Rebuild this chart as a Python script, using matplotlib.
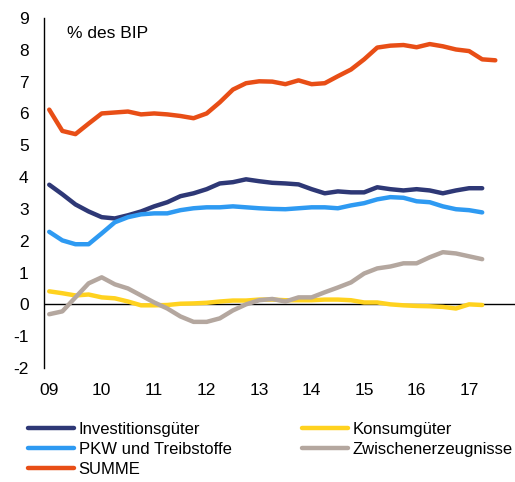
import numpy as np
import matplotlib
matplotlib.use("Agg")
from matplotlib import pyplot as plt

plt.rcParams['font.family'] = ['Liberation Sans', 'DejaVu Sans']
plt.rcParams['axes.unicode_minus'] = False

# quarterly values, 2009Q1 onwards
investition = [3.76, 3.46, 3.14, 2.92, 2.74, 2.70, 2.80, 2.92, 3.08, 3.21,
               3.40, 3.49, 3.62, 3.80, 3.84, 3.93, 3.87, 3.82, 3.80, 3.77,
               3.62, 3.49, 3.55, 3.52, 3.52, 3.68, 3.62, 3.58, 3.62, 3.58,
               3.49, 3.58, 3.65, 3.65]
pkw = [2.28, 2.01, 1.89, 1.89, 2.23, 2.58, 2.74, 2.83, 2.86, 2.86,
       2.96, 3.02, 3.05, 3.05, 3.08, 3.05, 3.02, 3.00, 2.99, 3.02,
       3.05, 3.05, 3.02, 3.11, 3.18, 3.30, 3.37, 3.35, 3.24, 3.21,
       3.08, 2.99, 2.96, 2.89]
konsum = [0.41, 0.35, 0.28, 0.31, 0.22, 0.19, 0.09, -0.03, -0.03, -0.02,
          0.02, 0.03, 0.05, 0.09, 0.12, 0.12, 0.15, 0.15, 0.13, 0.13,
          0.13, 0.15, 0.15, 0.13, 0.06, 0.06, 0.0, -0.03, -0.05, -0.06,
          -0.08, -0.13, 0.0, -0.02]
zwischen = [-0.31, -0.22, 0.22, 0.66, 0.85, 0.63, 0.50, 0.28, 0.06, -0.13,
            -0.38, -0.55, -0.55, -0.44, -0.19, 0.0, 0.13, 0.17, 0.09, 0.22,
            0.22, 0.38, 0.53, 0.69, 0.97, 1.13, 1.19, 1.29, 1.29, 1.48,
            1.64, 1.60, 1.51, 1.42]
summe = [6.12, 5.45, 5.35, 5.68, 6.0, 6.03, 6.06, 5.97, 6.0, 5.97,
         5.92, 5.85, 6.0, 6.35, 6.75, 6.95, 7.01, 7.0, 6.92, 7.04,
         6.92, 6.95, 7.17, 7.38, 7.7, 8.07, 8.13, 8.15, 8.08, 8.18,
         8.11, 8.01, 7.96, 7.7, 7.67]
year_labels = ['09', '10', '11', '12', '13', '14', '15', '16', '17']

fig = plt.figure(figsize=(5.15, 4.82), dpi=100)
ax = fig.add_axes([0.0854, 0.2365, 0.9146, 0.7262])

lw = 3.2
l1, = ax.plot(np.arange(len(investition)), investition, color='#2E3876', lw=lw, solid_capstyle='round', label='Investitionsgüter')
l2, = ax.plot(np.arange(len(pkw)), pkw, color='#2E9AF2', lw=lw, solid_capstyle='round', label='PKW und Treibstoffe')
l4, = ax.plot(np.arange(len(konsum)), konsum, color='#FFD21F', lw=lw, solid_capstyle='round', label='Konsumgüter')
l5, = ax.plot(np.arange(len(zwischen)), zwischen, color='#B4A79F', lw=lw, solid_capstyle='round', label='Zwischenerzeugnisse')
l3, = ax.plot(np.arange(len(summe)), summe, color='#E84E16', lw=lw, solid_capstyle='round', label='SUMME')
ax.axhline(0, color='black', lw=1, zorder=1)

ax.set_xlim(-0.4, 35.5)
ax.set_ylim(-2, 9)
ax.set_yticks(range(-2, 10))
ax.set_xticks(np.arange(0, 4 * len(year_labels), 4))
ax.set_xticklabels(year_labels)
ax.tick_params(axis='both', length=0, labelsize=12.5)
ax.tick_params(axis='y', pad=11)
ax.tick_params(axis='x', pad=11)

for s in ['top', 'right', 'bottom']:
    ax.spines[s].set_visible(False)
ax.spines['left'].set_color('black')
ax.spines['left'].set_linewidth(1)

ax.text(0.049, 0.955, '% des BIP', transform=ax.transAxes, fontsize=12.5, va='center', ha='left')

fig.legend([l1, l2, l3, l4, l5],
           ['Investitionsgüter', 'PKW und Treibstoffe', 'SUMME', 'Konsumgüter', 'Zwischenerzeugnisse'],
           ncol=2, loc='upper left', bbox_to_anchor=(0.054, 0.124), frameon=False,
           fontsize=12, handlelength=2.8, handletextpad=0.25, columnspacing=4.2,
           labelspacing=0.3, borderpad=0, borderaxespad=0)

fig.savefig('out.png', dpi=100)
